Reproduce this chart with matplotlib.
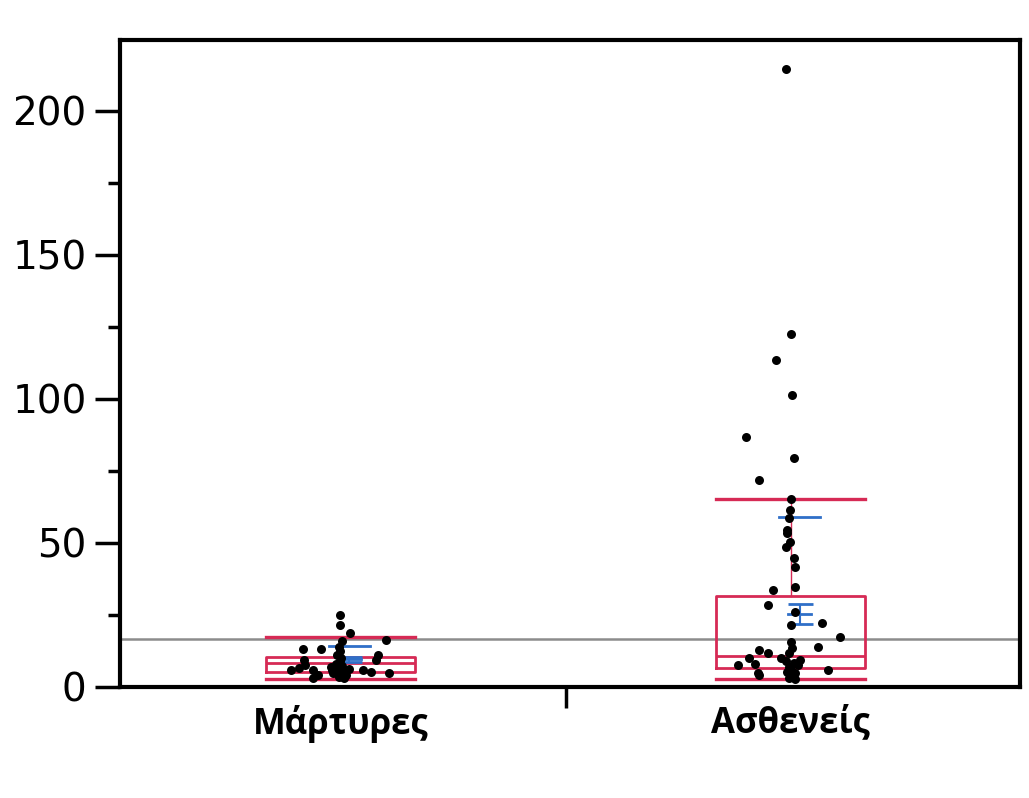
import matplotlib.pyplot as plt
import numpy as np

# groups
groups = ['Μάρτυρες', 'Ασθενείς']

# box statistics
q1 = [5.3, 6.5]
med = [8.4, 10.9]
q3 = [10.5, 31.6]
whislo = [2.7, 2.7]
whishi = [17.5, 65.2]

# means, standard error and upper std dev line
means = [9.6, 25.2]
sem = [0.8, 3.5]
sd_upper = [14.3, 59.1]
grand_mean = 16.7

# individual observations
ctrl_vals = [25, 21.5, 18.7, 16.3, 13.2, 13.2, 11, 9.4, 9.4, 7.6, 5.9, 6.6, 5.9, 3.1, 4.2,
             5.9, 5.2, 4.9, 5.9, 16, 14, 12.5, 11, 10, 9, 8, 7.2, 6.5, 5.5, 5, 4.5, 4,
             3.6, 3.2, 4.8, 6.2, 7]
ctrl_jit = [0.0, 0.0, 0.022, 0.100, -0.084, -0.044, 0.084, 0.078, -0.082, -0.078, -0.111,
            -0.093, -0.060, -0.062, -0.049, 0.051, 0.067, 0.107, -0.018, 0.004, -0.004, 0.0,
            -0.007, 0.002, -0.002, -0.009, 0.004, -0.004, 0.009, -0.011, 0.0, 0.013, -0.004,
            0.007, -0.016, 0.018, -0.022]

pat_vals = [214.6, 122.6, 113.5, 101.4, 86.8, 79.5, 71.9, 65.2, 61.5, 58.7, 54.5, 53.4,
            50.3, 48.6, 44.8, 41.7, 34.7, 33.7, 28.5, 26, 21.5, 22.2, 17.4, 13.9, 15.6,
            13.5, 12.8, 11.8, 11.8, 10, 10, 9.4, 7.6, 8, 6.9, 7.6, 5.9, 4.9, 5.2, 4.9,
            3.1, 2.8, 4.2, 3.5, 9, 8.5, 6]
pat_jit = [-0.009, 0.002, -0.033, 0.004, -0.098, 0.007, -0.069, 0.0, -0.002, -0.004,
           -0.007, -0.007, -0.002, -0.009, 0.007, 0.011, 0.011, -0.04, -0.049, 0.011, 0.0,
           0.071, 0.111, 0.062, 0.0, 0.004, -0.071, -0.051, -0.004, -0.093, -0.022, 0.022,
           -0.116, -0.078, -0.004, 0.016, 0.084, -0.073, -0.007, 0.011, -0.004, 0.011,
           -0.071, 0.004, -0.011, 0.007, 0.0]

red = '#d62a55'
blue = '#2f6fc8'
pos = [0.5, 1.5]
bw = 0.333

fig = plt.figure(figsize=(10.29, 7.98), dpi=100)
ax = fig.add_axes([0.1166, 0.1391, 0.8747, 0.8108])

ax.axhline(grand_mean, color='#8c8c8c', lw=1.8, zorder=1)

stats = []
for i in range(2):
    stats.append(dict(q1=q1[i], med=med[i], q3=q3[i], whislo=whislo[i], whishi=whishi[i],
                      fliers=[]))
ax.bxp(stats, positions=pos, widths=bw, capwidths=bw, showfliers=False, manage_ticks=False,
       boxprops=dict(color=red, lw=2),
       medianprops=dict(color=red, lw=2),
       whiskerprops=dict(color=red, lw=1),
       capprops=dict(color=red, lw=2.4))

# mean error bars and std dev lines
for i in range(2):
    xc = pos[i] + 0.02
    ax.errorbar([xc], [means[i]], yerr=[sem[i]], fmt='none', ecolor=blue, elinewidth=1.5,
                capsize=9, capthick=2, zorder=3)
    ax.plot([xc - 0.025, xc + 0.025], [means[i], means[i]], color=blue, lw=2, zorder=3)
    ax.plot([xc - 0.045, xc + 0.045], [sd_upper[i], sd_upper[i]], color=blue, lw=2, zorder=3)

ax.scatter(pos[0] + np.array(ctrl_jit), ctrl_vals, s=42, color='black', zorder=4, lw=0)
ax.scatter(pos[1] + np.array(pat_jit), pat_vals, s=42, color='black', zorder=4, lw=0)

ax.set_xlim(0.01, 2.01)
ax.set_ylim(0, 224.6)

ax.set_yticks([0, 50, 100, 150, 200])
ax.set_yticks([25, 75, 125, 175], minor=True)
ax.tick_params(axis='y', which='major', length=18, width=2.5, labelsize=28, pad=6)
ax.tick_params(axis='y', which='minor', length=9, width=2.5)

ax.set_xticks([1.0])
ax.set_xticklabels([''])
ax.set_xticks(pos, minor=True)
ax.set_xticklabels(groups, minor=True, fontsize=25, fontweight='bold',
                   family=['Open Sans', 'DejaVu Sans'])
ax.tick_params(axis='x', which='major', length=15, width=2.5)
ax.tick_params(axis='x', which='minor', length=0, pad=13)

for s in ax.spines.values():
    s.set_linewidth(3)

fig.savefig('out.png', dpi=100)
